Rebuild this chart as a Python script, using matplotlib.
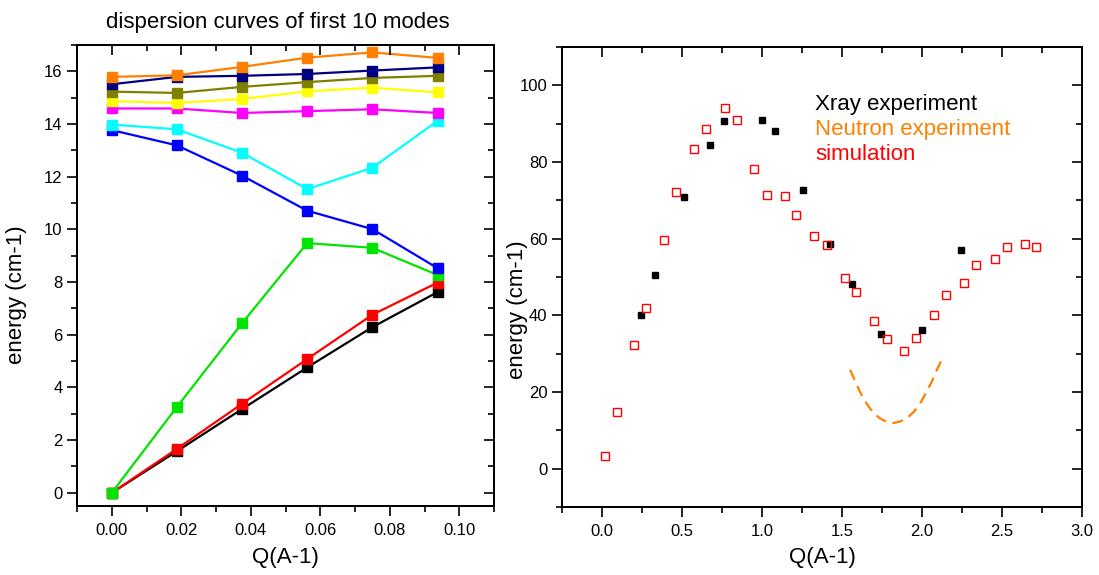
import matplotlib
matplotlib.use("Agg")
import matplotlib.pyplot as plt
from matplotlib.ticker import MultipleLocator, NullFormatter, FormatStrFormatter

plt.rcParams['font.family'] = ['Liberation Sans', 'DejaVu Sans']

# ---------------- left panel data ----------------
q_modes = [0.0, 0.01875, 0.0375, 0.05625, 0.075, 0.09375]
mode1 = [0.0, 1.58, 3.18, 4.76, 6.29, 7.62]
mode2 = [0.0, 1.67, 3.38, 5.08, 6.76, 7.98]
mode3 = [0.0, 3.26, 6.44, 9.48, 9.30, 8.27]
mode4 = [13.77, 13.19, 12.04, 10.71, 10.01, 8.53]
mode5 = [13.98, 13.80, 12.91, 11.53, 12.34, 14.12]
mode6 = [14.59, 14.59, 14.42, 14.49, 14.56, 14.42]
mode7 = [14.87, 14.80, 14.95, 15.24, 15.38, 15.20]
mode8 = [15.23, 15.18, 15.41, 15.59, 15.75, 15.83]
mode9 = [15.51, 15.79, 15.83, 15.90, 16.03, 16.15]
mode10 = [15.79, 15.85, 16.17, 16.52, 16.72, 16.51]
mode_colors = ['#000000', '#FF0000', '#00E400', '#0000FF', '#00FFFF',
               '#FF00FF', '#FFFF00', '#808000', '#000080', '#FF8000']

# ---------------- right panel data ----------------
sim_q = [0.017, 0.092, 0.202, 0.277, 0.389, 0.464, 0.575, 0.650, 0.767, 0.842,
         0.952, 1.029, 1.142, 1.214, 1.328, 1.405, 1.516, 1.588, 1.702, 1.779,
         1.889, 1.964, 2.077, 2.152, 2.264, 2.339, 2.454, 2.529, 2.642, 2.714]
sim_e = [3.3, 14.8, 32.3, 42.0, 59.6, 72.2, 83.4, 88.7, 94.1, 91.0,
         78.2, 71.5, 71.2, 66.3, 60.7, 58.3, 49.8, 46.0, 38.4, 33.9,
         30.7, 34.2, 40.0, 45.2, 48.4, 53.1, 54.6, 57.9, 58.6, 57.9]
xray_q = [0.244, 0.333, 0.514, 0.675, 0.764, 1.002, 1.083, 1.254, 1.426,
          1.564, 1.746, 1.998, 2.246]
xray_e = [40.2, 50.6, 70.8, 84.5, 90.8, 90.9, 88.2, 72.8, 58.6,
          48.2, 35.1, 36.3, 57.1]
neut_q = [1.550, 1.581, 1.608, 1.638, 1.675, 1.706, 1.738, 1.779, 1.821,
          1.863, 1.904, 1.946, 1.988, 2.023, 2.060, 2.092, 2.129]
neut_e = [25.8, 23.0, 20.4, 18.0, 15.7, 14.2, 13.1, 12.2, 11.9,
          12.3, 13.1, 14.7, 17.0, 19.6, 22.6, 25.7, 28.9]

W, H = 1099, 575
fig = plt.figure(figsize=(W / 100, H / 100), dpi=100)


def px_axes(l, t, r, b):
    return fig.add_axes([l / W, 1 - b / H, (r - l) / W, (b - t) / H])


# ---------------- left panel ----------------
ax1 = px_axes(77, 45, 494, 506)
modes = [mode1, mode2, mode3, mode4, mode5, mode6, mode7, mode8, mode9, mode10]
for m, c in zip(modes, mode_colors):
    ax1.plot(q_modes, m, color=c, lw=1.6, marker='s', ms=6.5, mec=c, mfc=c)
ax1.set_xlim(-0.01, 0.11)
ax1.set_ylim(-0.5, 17)
ax1.xaxis.set_major_locator(MultipleLocator(0.02))
ax1.xaxis.set_minor_locator(MultipleLocator(0.01))
ax1.yaxis.set_major_locator(MultipleLocator(2))
ax1.yaxis.set_minor_locator(MultipleLocator(1))
ax1.xaxis.set_major_formatter(FormatStrFormatter('%.2f'))
ax1.set_xlabel('Q(A-1)', fontsize=16)
ax1.set_ylabel('energy (cm-1)', fontsize=16, va='center')
ax1.yaxis.set_label_coords((17 - 77) / 417, (506 - 295) / 461)
ax1.xaxis.set_label_coords(0.5, (506 - 557) / 461)
ax1.xaxis.label.set_va('center')

# ---------------- right panel ----------------
ax2 = px_axes(562, 47, 1082, 507)
ax2.plot(neut_q, neut_e, color='#FF8000', lw=1.6, dashes=(5, 3))
ax2.plot(xray_q, xray_e, ls='none', marker='s', ms=4.4, color='black')
ax2.plot(sim_q, sim_e, ls='none', marker='s', ms=5.4, mfc='none', mec='#FF0000', mew=1.0)
ax2.set_xlim(-0.25, 3.0)
ax2.set_ylim(-10, 110)
ax2.xaxis.set_major_locator(MultipleLocator(0.5))
ax2.xaxis.set_minor_locator(MultipleLocator(0.25))
ax2.yaxis.set_major_locator(MultipleLocator(20))
ax2.yaxis.set_minor_locator(MultipleLocator(10))
ax2.xaxis.set_major_formatter(FormatStrFormatter('%.1f'))
ax2.set_xlabel('Q(A-1)', fontsize=16)
ax2.set_ylabel('energy (cm-1)', fontsize=16, va='center')
ax2.yaxis.set_label_coords((517 - 562) / 520, (507 - 310) / 460)
ax2.xaxis.set_label_coords(0.5, (507 - 557) / 460)
ax2.xaxis.label.set_va('center')

legend_x = (815 - 562) / 520
ax2.text(legend_x, (507 - 110) / 460, 'Xray experiment', color='black',
         fontsize=16, transform=ax2.transAxes, va='baseline')
ax2.text(legend_x, (507 - 135) / 460, 'Neutron experiment', color='#FF8000',
         fontsize=16, transform=ax2.transAxes, va='baseline')
ax2.text(legend_x, (507 - 160) / 460, 'simulation', color='#FF0000',
         fontsize=16, transform=ax2.transAxes, va='baseline')

for ax in (ax1, ax2):
    for s in ax.spines.values():
        s.set_linewidth(1.3)
    ax.tick_params(which='both', labelsize=12, width=1.2, direction='out',
                   top=False, right=False)
    ax.tick_params(which='major', length=7)
    ax.tick_params(which='minor', length=4)
    ax.tick_params(axis='y', pad=3.5)
    ax.tick_params(axis='x', pad=5)

# mirrored inward ticks on top / right (no labels)
for ax in (ax1, ax2):
    tx = ax.twiny()
    tx.set_xlim(ax.get_xlim())
    tx.xaxis.set_major_locator(ax.xaxis.get_major_locator())
    tx.xaxis.set_minor_locator(ax.xaxis.get_minor_locator())
    tx.xaxis.set_major_formatter(NullFormatter())
    tx.xaxis.set_minor_formatter(NullFormatter())
    tx.tick_params(which='both', direction='in', width=1.2)
    tx.tick_params(which='major', length=7)
    tx.tick_params(which='minor', length=4)
    tx.yaxis.set_visible(False)
    ty = ax.twinx()
    ty.set_ylim(ax.get_ylim())
    ty.yaxis.set_major_locator(ax.yaxis.get_major_locator())
    ty.yaxis.set_minor_locator(ax.yaxis.get_minor_locator())
    ty.yaxis.set_major_formatter(NullFormatter())
    ty.yaxis.set_minor_formatter(NullFormatter())
    ty.tick_params(which='both', direction='in', width=1.2)
    ty.tick_params(which='major', length=7)
    ty.tick_params(which='minor', length=4)
    ty.xaxis.set_visible(False)
    for t in (tx, ty):
        for s in t.spines.values():
            s.set_linewidth(1.3)

fig.text(106 / W, 1 - 28 / H, 'dispersion curves of first 10 modes', fontsize=16,
         va='baseline', ha='left')

fig.savefig('out.png', dpi=100)
